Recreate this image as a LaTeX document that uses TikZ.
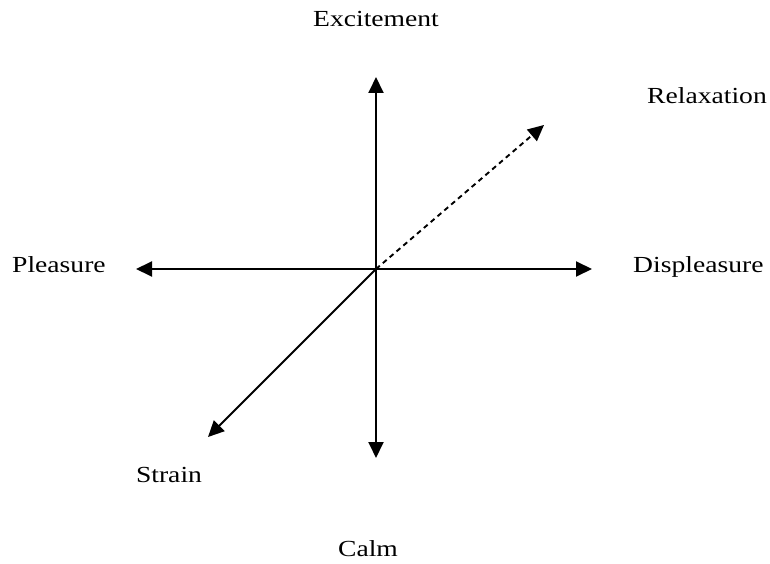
\documentclass[tikz,border=0pt]{standalone}
\usepackage{fontspec}
\setmainfont{Liberation Serif}[FakeStretch=1.2]
\usetikzlibrary{arrows.meta}
\begin{document}
\begin{tikzpicture}[x=1pt,y=1pt,
  axis/.style={line width=1.9pt,-{Triangle[length=16pt,width=15pt]}},
  lbl/.style={font=\fontsize{23}{26}\selectfont,inner sep=0pt}]
\useasboundingbox (0,0) rectangle (770,563);
\coordinate (O) at (376,294);
\coordinate (N) at (376,486);
\coordinate (S) at (376,105);
\coordinate (W) at (136,294);
\coordinate (E) at (592,294);
\coordinate (NE) at (544,438);
\coordinate (SW) at (208,126);
\draw[axis] (O) -- (N);
\draw[axis] (O) -- (S);
\draw[axis] (O) -- (W);
\draw[axis] (O) -- (E);
\draw[axis] (O) -- (SW);
\draw[axis,dash pattern=on 5pt off 4pt] (O) -- (NE);
\node[lbl,anchor=base] (exc) at (376,536) {Excitement};
\node[lbl,anchor=base] (calm) at (368,7) {Calm};
\node[lbl,anchor=base west] (plea) at (12,291) {Pleasure};
\node[lbl,anchor=base west] (disp) at (633,291) {Displeasure};
\node[lbl,anchor=base east] (relax) at (767,459) {Relaxation};
\node[lbl,anchor=base] (strain) at (169,81) {Strain};
\end{tikzpicture}
\end{document}
